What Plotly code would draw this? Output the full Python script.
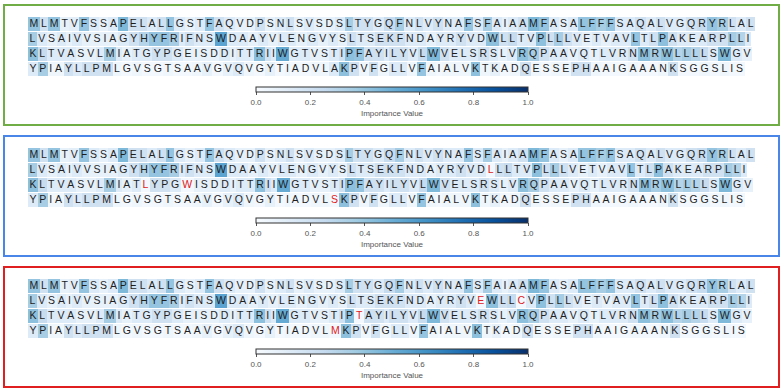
import plotly.graph_objects as go
import plotly.express as px

# Wild-type sequence, wrapped as in the figure
seq_rows = [
    "MLMTVFSSAPELALLGSTFAQVDPSNLSVSDSLTYGQFNLVYNAFSFAIAAMFASALFFFSAQALVGQRYRLAL",
    "LVSAIVVSIAGYHYFRIFNSWDAAYVLENGVYSLTSEKFNDAYRYVDWLLTVPLLLVETVAVLTLPAKEARPLLI",
    "KLTVASVLMIATGYPGEISDDITTRIIWGTVSTIPFAYILYVLWVELSRSLVRQPAAVQTLVRNMRWLLLLSWGV",
    "YPIAYLLPMLGVSGTSAAVGVQVGYTIADVLAKPVFGLLVFAIALVKTKADQESSEPHAAIGAAANKSGGSLIS",
]

# Per-residue importance
imp_row1 = [
    .40, .20, .40, .08, .10, .40, .13, .08, .13, .45,
    .20, .20, .13, .20, .40, .13, .08, .13, .40, .20,
    .13, .08, .08, .20, .08, .13, .20, .08, .13, .08,
    .08, .13, .35, .20, .20, .13, .24, .35, .13, .20,
    .13, .20, .13, .13, .40, .13, .35, .13, .08, .13,
    .20, .45, .40, .13, .08, .13, .40, .40, .35, .40,
    .13, .13, .20, .13, .20, .13, .13, .20, .24, .40,
    .35, .20, .13, .20,
]
imp_row2 = [
    .35, .13, .08, .13, .08, .13, .08, .08, .08, .08,
    .13, .20, .30, .40, .40, .35, .13, .20, .13, .13,
    .55, .13, .13, .08, .13, .08, .13, .13, .08, .13,
    .08, .13, .08, .20, .13, .13, .20, .20, .20, .13,
    .13, .08, .13, .13, .20, .13, .13, .42, .20, .24,
    .13, .13, .42, .20, .35, .20, .13, .08, .13, .08,
    .13, .13, .40, .13, .20, .42, .20, .13, .13, .13,
    .20, .20, .35, .30, .13,
]
imp_row3 = [
    .42, .24, .13, .13, .13, .08, .08, .13, .35, .13,
    .08, .13, .13, .20, .20, .13, .08, .08, .08, .08,
    .13, .08, .13, .13, .42, .20, .13, .52, .13, .13,
    .08, .08, .13, .20, .42, .40, .20, .20, .13, .20,
    .20, .13, .24, .45, .20, .13, .13, .13, .20, .13,
    .08, .13, .42, .35, .20, .13, .13, .08, .13, .08,
    .13, .13, .13, .20, .42, .35, .42, .30, .35, .30,
    .24, .13, .45, .13, .08,
]
imp_row4 = [
    .13, .35, .04, .04, .20, .13, .20, .20, .20, .04,
    .02, .04, .02, .02, .04, .02, .02, .04, .08, .02,
    .08, .13, .04, .02, .08, .02, .04, .02, .02, .04,
    .04, .13, .42, .20, .04, .20, .04, .13, .13, .04,
    .40, .04, .02, .04, .04, .04, .42, .04, .08, .02,
    .04, .20, .04, .02, .04, .04, .20, .20, .04, .02,
    .02, .02, .04, .02, .02, .04, .20, .02, .02, .04,
    .02, .04, .02, .02,
]
imp_rows = [imp_row1, imp_row2, imp_row3, imp_row4]

# Mutated residues per panel: (row, position, new residue)
mutations = [
    [],
    [(1, 47, "L"), (2, 12, "L"), (2, 16, "W"), (3, 31, "S")],
    [(1, 46, "E"), (1, 50, "C"), (2, 35, "T"), (3, 31, "M")],
]
mut_importance = 0.02

cbar_ticks = [0.0, 0.2, 0.4, 0.6, 0.8, 1.0]
cbar_title = "Importance Value"

# Liberation Sans advance widths (per 1000 em)
glyph_w = {"A": 667, "C": 722, "D": 722, "E": 667, "F": 611, "G": 778, "H": 722,
           "I": 278, "K": 667, "L": 556, "M": 833, "N": 722, "P": 667, "Q": 778,
           "R": 722, "S": 667, "T": 611, "V": 667, "W": 944, "Y": 667}

W, H = 784, 391
FONT = "Liberation Sans"
FS = 10.5
TEXT_X0 = 28
TEXT_SPAN = 727
track = (TEXT_SPAN - FS * sum(glyph_w[c] for c in seq_rows[0]) / 1000) / len(seq_rows[0])

panel_tops = [5, 136, 267]
panel_h = 120
border_colors = ["#70ad47", "#4a86e8", "#e02020"]
row_step = 15
row_h = 14
first_row = 19

fig = go.Figure()

for p, top in enumerate(panel_tops):
    mut = {(r, i): a for r, i, a in mutations[p]}
    cax = "coloraxis" if p == 0 else f"coloraxis{p + 1}"
    for r, row in enumerate(seq_rows):
        letters = [mut.get((r, i), c) for i, c in enumerate(row)]
        vals = [mut_importance if (r, i) in mut else v for i, v in enumerate(imp_rows[r])]
        colors = ["#e02020" if (r, i) in mut else "#1e1e1e" for i in range(len(row))]
        adv = [FS * glyph_w[c] / 1000 + track for c in letters]
        centers, x = [], TEXT_X0
        for a in adv:
            centers.append(x + a / 2)
            x += a
        yc = top + first_row + r * row_step
        fig.add_trace(go.Bar(
            x=centers, y=[row_h] * len(letters), base=[yc - row_h / 2] * len(letters),
            width=adv, marker=dict(color=vals, coloraxis=cax, line=dict(width=0)),
            hoverinfo="skip", showlegend=False,
        ))
        fig.add_trace(go.Scatter(
            x=centers, y=[yc] * len(letters), mode="text", text=letters,
            textposition="middle center",
            textfont=dict(family=FONT, size=FS, color=colors),
            hoverinfo="skip", showlegend=False,
        ))
    fig.add_shape(type="rect", x0=4, x1=779, y0=top, y1=top + panel_h,
                  line=dict(color=border_colors[p], width=2), fillcolor="rgba(0,0,0,0)")

    fig.layout[cax] = dict(
        colorscale=px.colors.sequential.Blues, cmin=0, cmax=1,
        colorbar=dict(
            orientation="h", x=0.5, xanchor="center",
            y=1 - (top + 82) / H, yanchor="top",
            len=272, lenmode="pixels", thickness=5, thicknessmode="pixels",
            xpad=0, ypad=0, outlinewidth=1, outlinecolor="#333",
            tickvals=cbar_ticks, ticktext=[f"{t:.1f}" for t in cbar_ticks],
            ticks="outside", ticklen=3, tickcolor="#555",
            tickfont=dict(family=FONT, size=8, color="#555"),
            title=dict(text=cbar_title, side="bottom",
                       font=dict(family=FONT, size=8, color="#555")),
        ),
    )

fig.update_layout(
    width=W, height=H, margin=dict(l=0, r=0, t=0, b=0, autoexpand=False),
    paper_bgcolor="white", plot_bgcolor="white",
    barmode="overlay", bargap=0,
    xaxis=dict(range=[0, W], visible=False, fixedrange=True),
    yaxis=dict(range=[H, 0], visible=False, fixedrange=True),
)

fig.write_html(
    "out.html",
    config={"displayModeBar": False, "staticPlot": True},
    post_script="document.body.style.margin='0';document.body.style.overflow='hidden';",
)
